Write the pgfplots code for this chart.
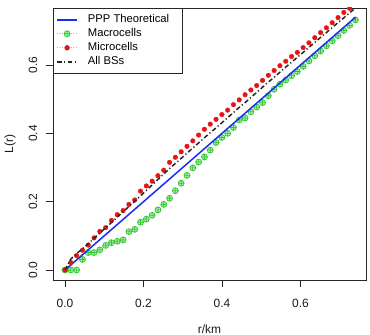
\documentclass[border=0pt]{standalone}
\usepackage{fontspec}
\setmainfont{Liberation Sans}
\usepackage{pgfplots}
\usepackage{pgfplotstable}
\pgfplotsset{compat=1.18}

% K-function estimates, L(r) against distance r (km)
\pgfplotstableread{
r      micro  macro  all
0.0000 0.000  0.000  0.000
0.0148 0.022  0.000  0.032
0.0296 0.042  0.000  0.048
0.0444 0.058  0.031  0.062
0.0592 0.073  0.051  0.077
0.0740 0.094  0.051  0.093
0.0888 0.113  0.059  0.108
0.1036 0.124  0.072  0.124
0.1184 0.145  0.080  0.139
0.1332 0.162  0.084  0.155
0.1480 0.174  0.088  0.170
0.1628 0.192  0.112  0.186
0.1776 0.205  0.119  0.201
0.1924 0.231  0.140  0.217
0.2072 0.246  0.149  0.233
0.2220 0.260  0.160  0.249
0.2368 0.276  0.176  0.265
0.2516 0.292  0.192  0.281
0.2664 0.315  0.210  0.297
0.2812 0.330  0.232  0.312
0.2960 0.346  0.254  0.327
0.3108 0.362  0.277  0.342
0.3256 0.378  0.299  0.357
0.3404 0.395  0.316  0.372
0.3552 0.412  0.331  0.387
0.3700 0.427  0.351  0.402
0.3848 0.441  0.373  0.416
0.3996 0.455  0.388  0.431
0.4144 0.468  0.400  0.446
0.4292 0.484  0.417  0.461
0.4440 0.498  0.439  0.476
0.4588 0.513  0.445  0.490
0.4736 0.527  0.463  0.505
0.4884 0.540  0.477  0.520
0.5032 0.555  0.490  0.535
0.5180 0.570  0.510  0.550
0.5328 0.584  0.529  0.564
0.5476 0.598  0.544  0.579
0.5624 0.611  0.556  0.594
0.5772 0.625  0.569  0.608
0.5920 0.637  0.581  0.623
0.6068 0.651  0.596  0.637
0.6216 0.665  0.612  0.652
0.6364 0.680  0.627  0.666
0.6512 0.695  0.641  0.681
0.6660 0.709  0.656  0.695
0.6808 0.724  0.671  0.710
0.6956 0.739  0.686  0.724
0.7104 0.754  0.701  0.738
0.7252 0.766  0.716  0.753
0.7400 0.781  0.732  0.767
}\Ldata

\definecolor{pppblue}{RGB}{25,45,245}
\definecolor{macgreen}{RGB}{45,200,45}
\definecolor{macfill}{RGB}{175,235,175}
\definecolor{micred}{RGB}{230,20,20}
\definecolor{micpink}{RGB}{245,160,160}

\begin{document}
\begin{tikzpicture}[x=1bp,y=1bp]
\path[use as bounding box] (0,0) rectangle (370,335);
\begin{axis}[
  at={(53bp,55bp)}, anchor=south west,
  scale only axis, width=313bp, height=272bp,
  xmin=-0.0306, xmax=0.7669,
  ymin=-0.0293, ymax=0.767,
  xtick={0,0.2,0.4,0.6}, xticklabels={0.0,0.2,0.4,0.6},
  ytick={0,0.2,0.4,0.6}, yticklabels={0.0,0.2,0.4,0.6},
  xtick pos=bottom, ytick pos=left,
  tick align=outside, major tick length=7bp,
  axis line style={black!85, line width=0.8bp},
  every tick/.style={black!85, line width=0.8bp},
  tick label style={font=\fontsize{12}{14}\selectfont, black!90},
  label style={font=\fontsize{12}{14}\selectfont, black!90},
  xticklabel style={anchor=center, yshift=-16bp},
  yticklabel style={anchor=center, xshift=-13bp, rotate=90},
  xlabel={r/km}, ylabel={L(r)},
  every axis x label/.style={at={(axis description cs:0.5,-0.18)}, anchor=center,
    font=\fontsize{12}{14}\selectfont, black!90},
  every axis y label/.style={at={(axis description cs:-0.137,0.5)}, anchor=center, rotate=90,
    font=\fontsize{12}{14}\selectfont, black!90},
  clip marker paths=true,
  legend cell align=left,
  legend style={at={(axis description cs:0,1)}, anchor=north west,
    draw=black!85, line width=0.6bp, fill=white,
    font=\fontsize{11.3}{13}\selectfont,
    inner xsep=3bp, inner ysep=4.5bp, row sep=0bp,
    nodes={inner sep=1bp, text height=9bp, text depth=3bp},
    /tikz/every odd column/.append style={column sep=9bp}},
  legend image code/.code={
    \draw[mark repeat=2, mark phase=2] plot coordinates {(0bp,0bp) (10bp,0bp) (20bp,0bp)};
  },
]
% legend entries
\addlegendimage{draw=pppblue, line width=1.6bp}
\addlegendentry{\makebox[90bp][l]{PPP Theoretical}}
\addlegendimage{draw=macgreen!70, line width=0.7bp, dotted, mark=oplus*,
  mark options={solid, draw=macgreen, fill=macfill, line width=0.7bp}, mark size=3bp}
\addlegendentry{Macrocells}
\addlegendimage{draw=micpink, line width=0.7bp, dotted, mark=*,
  mark options={solid, draw=micred, fill=micred}, mark size=2.3bp}
\addlegendentry{Microcells}
\addlegendimage{draw=black!85, line width=1.6bp, dash pattern=on 4.5bp off 2.5bp on 1.2bp off 2.5bp}
\addlegendentry{All BSs}

% macrocells
\addplot[forget plot, only marks, mark=oplus*, mark size=3bp,
  mark options={draw=macgreen, fill=macfill, line width=0.7bp}]
  table[x=r, y=macro] {\Ldata};
% Poisson reference L(r)=r
\addplot[forget plot, pppblue, line width=1.5bp] coordinates {(0,0) (0.74,0.74)};
% microcells
\addplot[forget plot, only marks, mark=*, mark size=2.3bp,
  mark options={draw=micred, fill=micred}]
  table[x=r, y=micro] {\Ldata};
% all base stations
\addplot[forget plot, black!85, line width=1.5bp,
  dash pattern=on 4.5bp off 2.5bp on 1.2bp off 2.5bp]
  table[x=r, y=all] {\Ldata};
\end{axis}
\end{tikzpicture}
\end{document}
